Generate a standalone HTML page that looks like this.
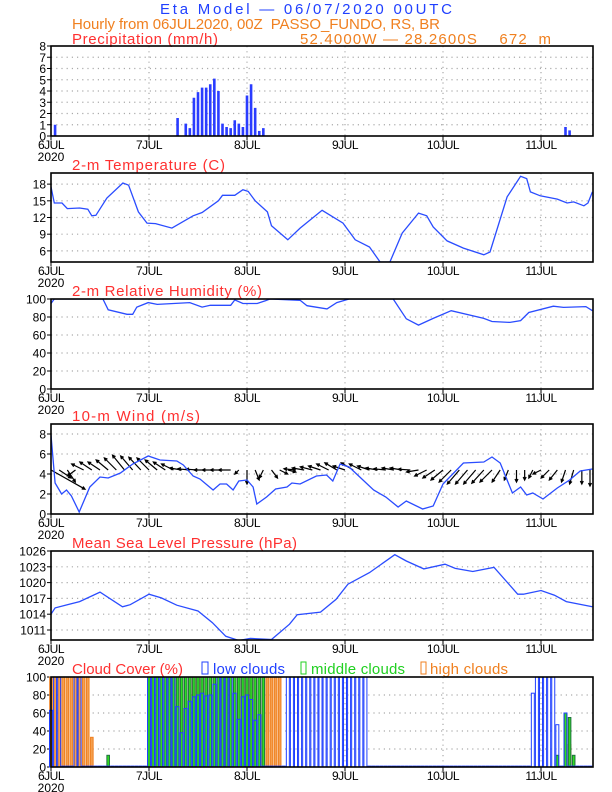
<!DOCTYPE html>
<html><head><meta charset="utf-8"><style>
html,body{margin:0;padding:0;background:#fff;}
svg{display:block;font-family:"Liberation Sans",sans-serif;}
</style></head><body>
<svg id="chart" width="612" height="792" viewBox="0 0 612 792" xmlns="http://www.w3.org/2000/svg">
<text x="160" y="14" fill="#2040ff" font-size="15" textLength="292" lengthAdjust="spacing">Eta Model — 06/07/2020 00UTC</text>
<text x="72" y="29" fill="#f08020" font-size="15" textLength="368" lengthAdjust="spacing" xml:space="preserve">Hourly from 06JUL2020, 00Z  PASSO_FUNDO, RS, BR</text>
<text x="300" y="44" fill="#f08020" font-size="15" textLength="251" lengthAdjust="spacing" xml:space="preserve">52.4000W — 28.2600S    672  m</text>
<text x="72" y="44" fill="#ff3030" font-size="15" textLength="146" lengthAdjust="spacing">Precipitation (mm/h)</text>
<text x="72" y="170" fill="#ff3030" font-size="15" textLength="153" lengthAdjust="spacing">2-m Temperature (C)</text>
<text x="72" y="296" fill="#ff3030" font-size="15" textLength="190" lengthAdjust="spacing">2-m Relative Humidity (%)</text>
<text x="72" y="421" fill="#ff3030" font-size="15" textLength="128" lengthAdjust="spacing">10-m Wind (m/s)</text>
<text x="72" y="548" fill="#ff3030" font-size="15" textLength="225" lengthAdjust="spacing">Mean Sea Level Pressure (hPa)</text>
<text x="72" y="674" fill="#ff3030" font-size="15" textLength="111" lengthAdjust="spacing">Cloud Cover (%)</text>
<g font-size="15">
<rect x="202" y="662" width="6" height="12" fill="none" stroke="#2040ff"/>
<text x="213" y="674" fill="#2040ff" textLength="72" lengthAdjust="spacing">low clouds</text>
<rect x="301" y="662" width="5" height="12" fill="none" stroke="#20d020"/>
<text x="311" y="674" fill="#20d020" textLength="94" lengthAdjust="spacing">middle clouds</text>
<rect x="421" y="662" width="5" height="12" fill="none" stroke="#f08020"/>
<text x="430" y="674" fill="#f08020" textLength="78" lengthAdjust="spacing">high clouds</text>
</g>
</svg>
<script>
// ---- data ----
const precipHours = [1,31,33,34,35,36,37,38,39,40,41,42,43,44,45,46,47,48,49,50,51,52,126,127];
const precipValues = [1.0,1.6,1.1,0.7,3.4,3.9,4.3,4.3,4.6,5.1,4.0,1.1,0.8,0.7,1.4,1.1,0.8,3.6,4.6,2.5,0.45,0.7,0.8,0.5];

const tempHours = [0,0.8,2.7,4,7,9,10,11,13.7,17.6,19,21.4,23.5,25.6,29.6,34.8,37,41,42,45,47,48.3,50,53,54,58,61,66.4,71.5,74.5,78,80.6,83,86,90,92,93.6,97,101,106,107.5,111.7,115,116.5,117.4,119.8,124,126.4,128,130.5,131.5,132.6];
const tempValues = [17.5,14.6,14.6,13.6,13.7,13.5,12.3,12.4,15.5,18.2,17.8,13,11,10.9,10.1,12.3,12.9,15,16,16,17,16.7,15,13,10.5,8,10.1,13.3,11,8,6.7,4,4,9.2,12.8,12.3,10.3,7.8,6.5,5.3,5.8,15.7,19.4,19,16.6,15.9,15.3,14.6,14.8,14.1,14.6,16.6];

const rhHours = [0,0.8,12.7,14,18.6,20,21,23.8,26,34,37,39,44,45,47,50.5,52.5,53.6,61,62.7,67.6,70,73,83.8,87,90,93.6,98,106,108,112.4,115,117,123,125.5,131,132.6];
const rhValues = [95,100,100,88,83,83,91,96,94,96,91,93,93,99,95,95,98,100,98.6,92.6,89,96,100,100,78,71,78.5,87,78.5,75,74,76,85,92,90.7,91.5,87];

const windHours = [0,1,2.6,3.8,5,6.9,9.5,12,14,17,20,23.8,26.7,30.8,32.4,34.8,36.5,39.7,41.4,43,44.6,46,48,49.5,50.4,52.8,55,57.8,59,61,65,67.5,69,70.8,73,79,82,85,87,91,93.6,96,101,106,108,110,113,115,116.5,118,120.5,124,127,129.6,132.6];
const windSpeed = [7.9,3.1,2,2.4,1.8,0.2,2.7,3.7,3.6,4.1,5,5.8,5.4,5.3,4.9,3.8,3.5,2.4,3,3,2.4,3.3,3.4,2.7,1,1.7,2.5,2.7,3.1,3,3.8,3.9,3.3,5,4.7,2.4,1.7,0.7,1.3,0.5,0.8,3,5.1,5.2,5.7,5.1,2.1,2.7,1.9,2.1,1.5,2.6,3.4,4.3,4.5];

const vecHours = [0,2,4,6,8,10,12,14,16,18,20,22,24,26,28,30,32,34,36,38,40,42,44,46,48,50,52,54,56,58,60,62,64,66,68,70,72,74,76,78,80,82,84,86,88,90,92,94,96,98,100,102,104,106,108,110,112,114,116,118,120,122,124,126,128,130,132];
const vecU = [8.5,3,2,-2,-3,-3,-3,-3,-3,-3,-3,-3,-3,-3,-3,-3,-3,-3,-3,-3,-3,-3,-3,-1,0,1,-1,1.5,2,2,-3,-3,-3,-3,-3,-3,-3,-3,-3,-3,-3,-3,-3,-3,-3,-3,-3,-3,-3,-3,-3,-3,-3,-3,-3,-2,-1,0,0,-1,-2,-2,-2,-1,-1,0,0];
const vecV = [-4.8,-2,-3,-1.5,1.5,2,2,2.5,3,3.7,3.5,3.2,3,2.5,2,1.5,0.5,0.3,0.2,0,0,0,0,-1,-3.5,-2.5,-2,-2,-1,-0.5,0.3,0.5,0.8,1,1.5,1.8,1,1.8,1.5,1,0.5,0.3,0.5,0.5,0.2,-0.5,-1.5,-2,-2.5,-3,-3.5,-3.5,-3.5,-3.3,-3,-3,-2.5,-3,-2.5,-2,-1,-2,-2.5,-3,-3.5,-3.5,-4];

const presHours = [0,1,4,7,12,17.5,19.4,24,27,30.8,36,39.5,42.8,46,48.8,54,58.4,60.3,66,69.8,72.7,78,84.2,87,91.3,96.5,99,103.3,108.5,114.3,115.7,120,123.3,126.2,132.6];
const presValues = [1014,1015.2,1015.8,1016.4,1018.2,1015.4,1015.8,1017.8,1017.1,1015.7,1014.6,1012.4,1009.8,1009,1009.4,1009.2,1012.1,1013.9,1014.4,1016.8,1019.7,1021.9,1025.3,1024.1,1022.6,1023.5,1022.7,1022.1,1022.9,1017.8,1017.8,1018.5,1017.6,1016.4,1015.4];

const cloudLow = [63,100,100,1,1,1,100,100,1,1,1,
 1,1,1,1,1,1,1,1,1,1,1,1,1,
 100,100,100,100,100,100,100,
 67,38,65,73,78,80,82,79,80,92,100,100,100,100,82,53,78,80,75,52,58,1,
 1,1,1,1,1,
 100,100,100,100,100,100,100,100,100,100,100,100,100,100,100,100,100,100,100,100,
 1,1,1,1,1,1,1,1,1,1,1,1,1,1,1,1,1,1,1,1,1,1,1,1,1,1,1,1,1,1,1,1,1,1,1,1,1,1,1,1,
 82,100,100,100,100,100,
 47,1,60,1,1,
 1,1,1,1];
const cloudMid = [0,0,0,0,0,0,0,0,0,0,0,0,0,0,13,0,0,0,0,0,0,0,0,0,
 100,100,100,100,100,100,100,100,100,100,100,100,100,100,100,100,100,100,100,100,100,100,100,100,100,100,100,100,100,
 0,0,0,0,0,0,0,0,0,0,0,0,0,0,0,0,0,0,0,0,0,0,0,0,0,0,0,0,0,0,0,0,0,0,0,0,0,0,0,0,0,0,0,0,0,0,0,0,0,0,0,0,0,0,0,0,0,0,0,0,0,0,0,0,0,0,0,0,0,0,0,
 13,0,60,55,13,0,0,0,0];
const cloudHigh = [100,100,100,100,100,100,100,100,100,100,33,
 0,0,0,0,0,0,0,0,0,0,0,0,0,
 100,100,100,100,100,100,100,100,100,100,100,100,100,100,100,100,100,100,100,100,100,100,100,100,100,100,100,100,100,100,100,100,100,
 0,0,0,0,0,0,0,0,0,0,0,0,0,0,0,0,0,0,0,0,0,0,0,0,0,0,0,0,0,0,0,0,0,0,0,0,0,0,0,0,0,0,0,0,0,0,0,0,0,0,0,0,0,0,0,0,0,0,0,0,0,0,0,0,0,0,0,0,0,0,
 25,0,0,0,0,0];

const dayLabels = ["6JUL","7JUL","8JUL","9JUL","10JUL","11JUL"];
const precipTicks = [0,1,2,3,4,5,6,7,8];
const tempTicks = [6,9,12,15,18];
const rhTicks = [0,20,40,60,80,100];
const windTicks = [0,2,4,6,8];
const presTicks = [1011,1014,1017,1020,1023,1026];
const cloudTicks = [0,20,40,60,80,100];

// ---- drawing ----
const NS = "http://www.w3.org/2000/svg";
const svg = document.getElementById("chart");
const X0 = 51, X1 = 593, PXH = 98/24;
function xs(h){ return X0 + h*PXH; }
function mk(tag, attrs, parent){
  const e = document.createElementNS(NS, tag);
  for (const k in attrs) e.setAttribute(k, attrs[k]);
  (parent||svg).appendChild(e);
  return e;
}
function panel(name, top, bottom, ymin, ymax, ticks){
  const g = mk("g", {});
  
  
  const ys = v => bottom - (v - ymin) / (ymax - ymin) * (bottom - top);
  for (let d = 1; d < 6; d++) {
    const gl = mk("line", {x1: xs(d*24), x2: xs(d*24), y1: top, y2: bottom, stroke: "#aaa", "stroke-dasharray": "1.2,4", "stroke-width": 1.2}, g);
    
    
  }
  ticks.forEach(t => {
    const y = ys(t);
    if (y > top + 1 && y < bottom - 1) {
      const gl = mk("line", {x1: X0, x2: X1, y1: y, y2: y, stroke: "#aaa", "stroke-dasharray": "1.2,4", "stroke-width": 1.2}, g);
      
      
    }
    const tk = mk("line", {x1: X0 - 4, x2: X0, y1: y, y2: y, stroke: "#000"}, g);
    
    
    const tl = mk("text", {x: X0 - 5, y: y + 4.5, "text-anchor": "end", "font-size": 12, fill: "#000"}, g);
    
    
    tl.textContent = t;
  });
  dayLabels.forEach((lab, d) => {
    const tk = mk("line", {x1: xs(d*24), x2: xs(d*24), y1: bottom, y2: bottom + 4, stroke: "#000"}, g);
    
    
    const tl = mk("text", {x: xs(d*24), y: bottom + 13, "text-anchor": "middle", "font-size": 12, fill: "#000", "letter-spacing": "-0.5"}, g);
    
    
    tl.textContent = lab;
  });
  const yr = mk("text", {x: X0, y: bottom + 25, "text-anchor": "middle", "font-size": 12, fill: "#000"}, g);
  
  
  yr.textContent = "2020";
  const plot = mk("g", {}, g);
  
  
  return {g, plot, ys, top, bottom, frame: () => {
    const f = mk("rect", {x: X0, y: top, width: X1 - X0, height: bottom - top, fill: "none", stroke: "#000", "stroke-width": 1.6}, g);
    
    
  }};
}
function line(p, hours, vals, name){
  const d = hours.map((h, i) => (i ? "L" : "M") + xs(h).toFixed(1) + "," + p.ys(vals[i]).toFixed(1)).join("");
  const cp = mk("clipPath", {id: name + "-clip"}, p.g);
  mk("rect", {x: X0, y: p.top, width: X1 - X0, height: p.bottom - p.top}, cp);
  const e = mk("path", {d, fill: "none", stroke: "#2a4cff", "stroke-width": 1.3, "clip-path": "url(#" + name + "-clip)"}, p.plot);
  
  
}

// precipitation
const pp = panel("precip", 46, 136, 0, 8, precipTicks);
precipHours.forEach((h, i) => {
  const y = pp.ys(precipValues[i]);
  const b = mk("rect", {x: xs(h) - 1.3, y, width: 2.6, height: pp.bottom - y, fill: "#2a3cff"}, pp.plot);
  
  
});
pp.frame();

// temperature
const tp = panel("temp", 173, 262, 4, 20, tempTicks);
line(tp, tempHours, tempValues, "temperature-line");
tp.frame();

// RH
const rp = panel("rh", 299, 389, 0, 100, rhTicks);
line(rp, rhHours, rhValues, "humidity-line");
rp.frame();

// wind
const wp = panel("wind", 424, 514, 0, 9, windTicks);
const baseY = wp.ys(4.4), VS = 4;
vecHours.forEach((h, i) => {
  const x1 = xs(h), y1 = baseY;
  const x2 = x1 + vecU[i]*VS, y2 = y1 - vecV[i]*VS;
  const len = Math.hypot(x2 - x1, y2 - y1) || 1;
  const ux = (x2 - x1)/len, uy = (y2 - y1)/len;
  const a = mk("path", {d: `M${x1},${y1}L${x2},${y2}M${x2 - 3*ux - 1.5*uy},${y2 - 3*uy + 1.5*ux}L${x2},${y2}L${x2 - 3*ux + 1.5*uy},${y2 - 3*uy - 1.5*ux}`, stroke: "#000", "stroke-width": 1.2, fill: "none"}, wp.plot);
  
  
});
line(wp, windHours, windSpeed, "wind-speed-line");
wp.frame();

// pressure
const mp = panel("pressure", 551, 640, 1009.1, 1026, presTicks);
line(mp, presHours, presValues, "pressure-line");
mp.frame();

// cloud
const cp = panel("cloud", 677, 767, 0, 100, cloudTicks);
function cloudBars(arr, fill, stroke, name, w){
  arr.forEach((v, h) => {
    if (!v) return;
    const y = cp.ys(v);
    const b = mk("rect", {x: xs(h) - w/2, y, width: w, height: cp.bottom - y, fill, stroke, "stroke-width": 1}, cp.plot);
    
    
  });
}
cloudBars(cloudHigh, "#f4a050", "#f08020", "high-cloud-bar", 2.6);
cloudBars(cloudMid, "#30dd20", "#207040", "middle-cloud-bar", 2.6);
cloudBars(cloudLow, "none", "#2040ff", "low-cloud-bar", 3);
cp.frame();
</script>
</body></html>
